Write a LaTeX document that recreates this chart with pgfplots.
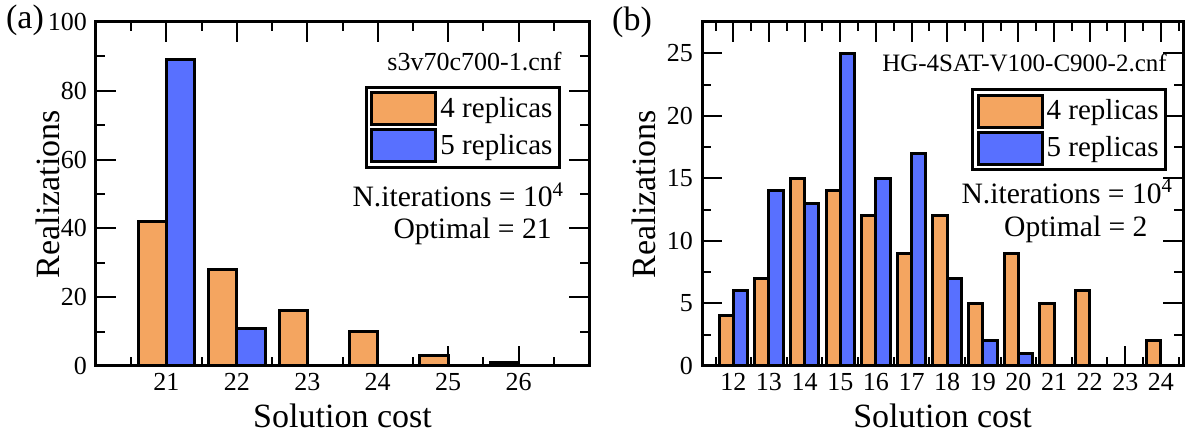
\documentclass[border=0pt]{standalone}
\usepackage{fontspec}
\setmainfont{Liberation Serif}
\usepackage{pgfplots}
\pgfplotsset{compat=1.18}

\definecolor{barorange}{RGB}{244,165,96}
\definecolor{barblue}{RGB}{88,112,255}

\pgfplotsset{
  panel/.style={
    scale only axis, height=172pt, ymin=0,
    axis line style={line width=1.5pt},
    tick align=inside,
    every tick/.style={black, line width=1pt},
    major tick length=10pt, minor tick length=4.5pt,
    /pgf/number format/assume math mode=true,
    ticklabel style={font=\fontsize{13}{13}\selectfont},
    yticklabel style={xshift=-1pt},
    xlabel={Solution cost}, ylabel={Realizations},
    label style={font=\fontsize{17}{17}\selectfont},
    xlabel style={at={(axis description cs:0.5,-0.145)}, anchor=center},
    legend style={draw=black, line width=1.5pt, anchor=north east,
      inner sep=2pt, row sep=1pt, font=\fontsize{14.5}{16}\selectfont,
      nodes={inner sep=1.5pt}},
    legend cell align=left,
  },
  hbar/.style={ybar, bar width=0.4, draw=black, line width=1.5pt,
    legend image code/.code={\draw[##1, line width=1.5pt] (0pt,-8pt) rectangle (32pt,8pt);}},
}
\tikzset{note/.style={font=\fontsize{14.8}{14.8}\selectfont, anchor=east, inner sep=0pt}}

\begin{document}
\begin{tikzpicture}
\path[use as bounding box] (0,0) rectangle (598.5pt,218.5pt);

% (a)
\begin{axis}[panel, at={(48pt,35.5pt)}, anchor=south west, width=246.5pt,
  xmin=20, xmax=27, ymax=100,
  xtick={21,...,26}, minor xtick={20.5,21.5,...,26.5},
  ytick={0,20,...,100}, minor ytick={10,30,...,90},
  ylabel style={at={(axis description cs:-0.0974,0.5)}, anchor=center},
  legend style={at={(rel axis cs:0.943,0.814)}}]
\addplot[hbar, bar shift=-0.2, fill=barorange] coordinates {
  (21,42) (22,28) (23,16) (24,10) (25,3) (26,1)};
\addplot[hbar, bar shift=0.2, fill=barblue] coordinates {
  (21,89) (22,11)};
\legend{4 replicas, 5 replicas}
\node[note, font=\fontsize{13}{13}\selectfont] at (rel axis cs:0.945,0.884) {s3v70c700-1.cnf};
\node[note] at (rel axis cs:0.950,0.497) {N.iterations = 10\textsuperscript{4}};
\node[note] at (rel axis cs:0.925,0.392) {Optimal = 21};
\end{axis}

% (b)
\begin{axis}[panel, at={(351pt,35.5pt)}, anchor=south west, width=240.5pt,
  xmin=11.12, xmax=24.62, ymax=27.5,
  xtick={12,...,24}, minor xtick={11.5,12.5,...,24.5},
  ytick={0,5,...,25}, minor ytick={2.5,7.5,...,22.5},
  ylabel style={at={(axis description cs:-0.1206,0.5)}, anchor=center},
  legend style={at={(rel axis cs:0.967,0.808)}}]
\addplot[hbar, bar shift=-0.2, fill=barorange] coordinates {
  (12,4) (13,7) (14,15) (15,14) (16,12) (17,9) (18,12)
  (19,5) (20,9) (21,5) (22,6) (24,2)};
\addplot[hbar, bar shift=0.2, fill=barblue] coordinates {
  (12,6) (13,14) (14,13) (15,25) (16,15) (17,17) (18,7)
  (19,2) (20,1)};
\legend{4 replicas, 5 replicas}
\node[note, font=\fontsize{12.5}{12.5}\selectfont] at (rel axis cs:0.967,0.881) {HG-4SAT-V100-C900-2.cnf};
\node[note] at (rel axis cs:0.980,0.508) {N.iterations = 10\textsuperscript{4}};
\node[note] at (rel axis cs:0.927,0.398) {Optimal = 2};
\end{axis}

\node[font=\fontsize{17}{17}\selectfont] at (12.5pt,208.5pt) {(a)};
\node[font=\fontsize{17}{17}\selectfont] at (316pt,207.5pt) {(b)};
\end{tikzpicture}
\end{document}
